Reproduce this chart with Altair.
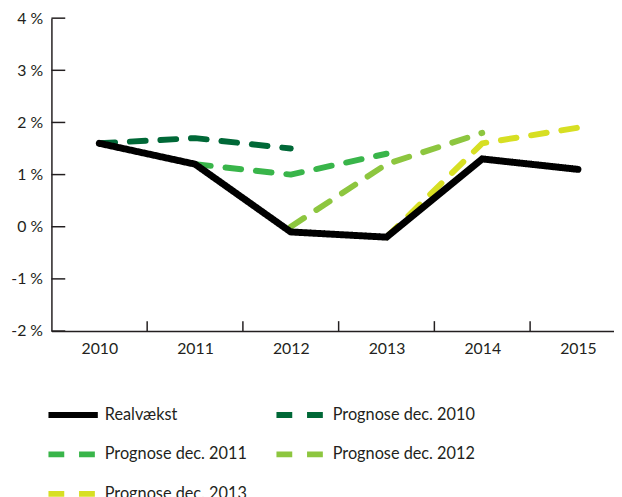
import altair as alt
import pandas as pd

years = [2010, 2011, 2012, 2013, 2014, 2015]
realvaekst = [1.6, 1.2, -0.1, -0.2, 1.3, 1.1]
prognose_2010 = [1.6, 1.7, 1.5, None, None, None]
prognose_2011 = [None, 1.2, 1.0, 1.4, None, None]
prognose_2012 = [None, None, 0.0, 1.2, 1.8, None]
prognose_2013 = [None, None, None, -0.2, 1.6, 1.9]

series_names = ["Realvækst", "Prognose dec. 2010", "Prognose dec. 2011",
                "Prognose dec. 2012", "Prognose dec. 2013"]
series_colors = ["#000000", "#006837", "#39b54a", "#8dc63f", "#d7df23"]
series_dash = [[1, 0], [16, 15], [16, 15], [16, 15], [16, 15]]

y_ticks = [-2, -1, 0, 1, 2, 3, 4]
x_boundaries = [2010.5, 2011.5, 2012.5, 2013.5, 2014.5]

rows = []
for name, vals in zip(series_names,
                      [realvaekst, prognose_2010, prognose_2011, prognose_2012, prognose_2013]):
    for yr, v in zip(years, vals):
        if v is not None:
            rows.append({"serie": name, "year": yr, "value": v})
df = pd.DataFrame(rows)
ytick_df = pd.DataFrame({"value": y_ticks})
xtick_df = pd.DataFrame({"year": x_boundaries})

W, H = 570, 317
STEP = 97
FONT = "Lato"
INK = "#231f20"

x_scale = alt.Scale(domain=[2009.5, 2009.5 + W / STEP], nice=False, zero=False)
y_scale = alt.Scale(domain=[-2, 4], nice=False, zero=False)

x_enc = alt.X("year:Q", scale=x_scale,
              axis=alt.Axis(values=years, format="d", ticks=False, grid=False, title=None,
                            labelPadding=10, labelFontSize=16, labelFont=FONT, labelColor=INK,
                            domainColor=INK, domainWidth=1.5, labelFlush=False))
y_enc = alt.Y("value:Q", scale=y_scale,
              axis=alt.Axis(values=y_ticks, ticks=False, grid=False, title=None,
                            labelExpr="datum.value + ' %'", labelPadding=9,
                            labelFontSize=16, labelFont=FONT, labelColor=INK,
                            domainColor=INK, domainWidth=1.5))

legend = alt.Legend(orient="none", legendX=-6, legendY=374, columns=2, direction="horizontal",
                    title=None, symbolType="stroke", symbolSize=2500,
                    symbolStrokeWidth=6, labelFontSize=16.5, labelFont=FONT,
                    labelColor=INK, labelOffset=4, columnPadding=17,
                    rowPadding=0, padding=0)

color_enc = alt.Color("serie:N",
                      scale=alt.Scale(domain=series_names, range=series_colors),
                      legend=legend)
dash_enc = alt.StrokeDash("serie:N",
                          scale=alt.Scale(domain=series_names, range=series_dash),
                          legend=legend)

base = alt.Chart(df).encode(x=x_enc, y=y_enc, color=color_enc, strokeDash=dash_enc)

prog = base.transform_filter(alt.datum.serie != "Realvækst").mark_line(
    strokeWidth=6, strokeCap="round", strokeJoin="round")
real = base.transform_filter(alt.datum.serie == "Realvækst").mark_line(
    strokeWidth=7, strokeCap="round", strokeJoin="miter")

ytick = alt.Chart(ytick_df).mark_rule(color=INK, strokeWidth=1.5).encode(
    y=y_enc, x=alt.value(0), x2=alt.value(14))
xtick = alt.Chart(xtick_df).mark_rule(color=INK, strokeWidth=1.5).encode(
    x=x_enc, y=alt.value(H - 10), y2=alt.value(H))

chart = alt.layer(prog, real, ytick, xtick).properties(
    width=W, height=H,
    autosize=alt.AutoSizeParams(type="none"),
    padding={"left": 44, "top": 7, "right": 0, "bottom": 175},
).configure_view(stroke=None)

chart.save("out.html", embed_options={"renderer": "svg", "actions": False})
